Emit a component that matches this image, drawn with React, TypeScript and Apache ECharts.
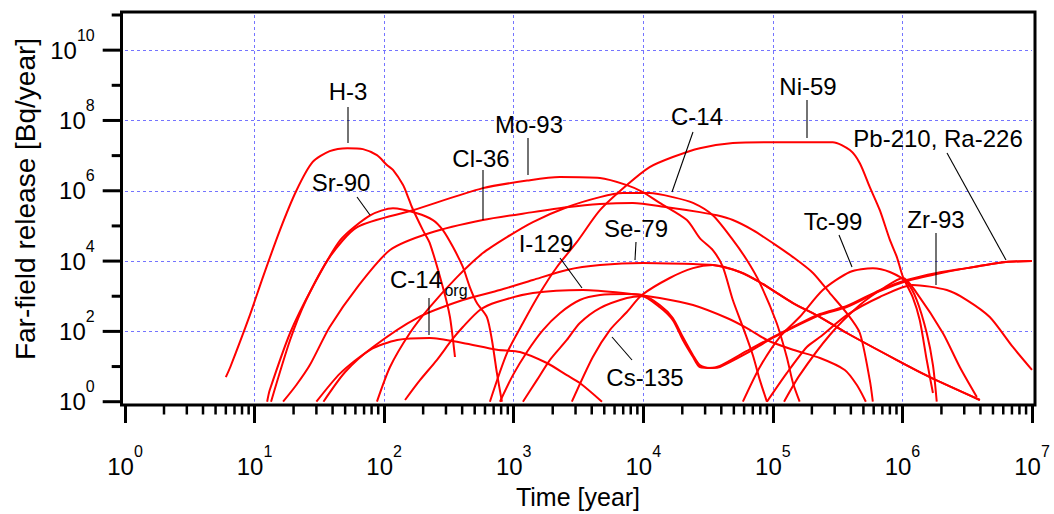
import React, { useEffect, useRef } from 'react';
import * as echarts from 'echarts';

const FONT = "'Liberation Sans', Arial, Helvetica, sans-serif";
const RED = '#ff0000';
const GRID_BLUE = '#7474ff';

// axis ranges
const X_MIN = 1;
const X_MAX = 1e7;
const Y_MIN = 1;
const Y_MAX = 1e11;

// ---- series data: [time (year), release (Bq/year)] ----
const h3: [number, number][] = [[6.0, 5.0], [6.5, 9.7], [9.2, 290], [11.6, 3.5e3], [15.7, 7.6e4], [21, 1.0e6], [28, 6.5e6], [38, 1.34e7], [52, 1.63e7], [68.6, 1.53e7], [88, 1.03e7], [105, 5.4e6], [117, 3.9e6], [140, 1.45e6], [153, 6.6e5], [164, 3.4e5], [199, 7.6e4], [225, 3.25e4], [284, 1.8e3], [322, 256], [352, 18.7]];
const sr90: [number, number][] = [[12.5, 1], [13.1, 2.15], [18.8, 90], [28, 1.8e3], [46, 4.0e4], [78, 2.0e5], [117, 3.2e5], [179, 2.3e5], [238, 1.47e5], [284, 7.6e4], [340, 2.5e4], [405, 6.8e3], [459, 1.8e3], [520, 640], [621, 256], [679, 57], [742, 6.5], [811, 1]];
const mo93: [number, number][] = [[13.4, 1], [18.8, 57], [25, 780], [38, 1.3e4], [62, 9.3e4], [167, 2.8e5], [578, 1.19e6], [1334, 2.0e6], [2270, 2.45e6], [4630, 2.3e6], [7470, 1.45e6], [9930, 9.2e5], [1.34e4, 4.5e5], [2.17e4, 1.47e5], [2.73e4, 4.5e4], [3.44e4, 2.06e4], [4.11e4, 6.8e3], [4.91e4, 780], [5.87e4, 133], [7.01e4, 21], [7.94e4, 4.1], [9.0e4, 1]];
const cl36: [number, number][] = [[16.6, 1], [21, 2.98], [26.7, 11], [38, 133], [62, 1.8e3], [111, 2.06e4], [225, 6.3e4], [578, 1.47e5], [1406, 2.47e5], [2570, 3.4e5], [4630, 4.2e5], [8310, 4.5e5], [1.52e4, 3.4e5], [2.73e4, 2.47e5], [3.7e4, 2.0e5], [4.91e4, 1.47e5], [7.01e4, 7.6e4], [1.0e5, 3.25e4], [1.43e5, 1.3e4], [2.04e5, 4.6e3], [2.75e5, 1.23e3], [3.72e5, 330], [4.69e5, 90], [5.6e5, 4.1], [5.91e5, 1]];
const c14: [number, number][] = [[88, 1], [111, 9.7], [158, 90], [225, 490], [365, 3.5e3], [578, 1.69e4], [887, 4.8e4], [1406, 1.29e5], [2570, 3.4e5], [4630, 6.6e5], [6960, 8.6e5], [1.12e4, 8.6e5], [1.69e4, 6.6e5], [2.42e4, 4.5e5], [3.44e4, 2.0e5], [4.91e4, 4.0e4], [6.3e4, 1.07e4], [7.94e4, 2.37e3], [1.07e5, 173], [1.28e5, 18.7], [1.43e5, 3.4], [1.61e5, 1]];
const ni59: [number, number][] = [[655, 1], [887, 24], [1178, 173], [1592, 1.23e3], [2155, 6.8e3], [3075, 3.5e4], [4630, 2.8e5], [7470, 1.45e6], [1.12e4, 4.7e6], [1.69e4, 9.1e6], [2.73e4, 1.63e7], [4.91e4, 2.27e7], [1.0e5, 2.42e7], [2.9e5, 2.42e7], [3.93e5, 1.44e7], [4.69e5, 6.1e6], [5.6e5, 1.27e6], [6.69e5, 2.8e5], [8.0e5, 4.0e4], [9.06e5, 1.3e4], [1.01e6, 3.5e3], [1.2e6, 950], [1.36e6, 210], [1.54e6, 15.3], [1.72e6, 1.77]];
const c14org: [number, number][] = [[30, 1], [46, 6.5], [78, 30], [126, 57], [225, 65], [405, 47], [742, 30], [1117, 26], [1803, 12.6], [2570, 5.7], [3240, 3.4], [4800, 1]];
const se79: [number, number][] = [[34, 1], [50, 7.0], [82, 36], [179, 240], [405, 780], [783, 1.5e3], [1406, 2.9e3], [2570, 5.6e3], [4630, 7.7e3], [9930, 8.8e3], [2.42e4, 8.2e3], [3.44e4, 7.7e3], [5.56e4, 4.9e3], [7.94e4, 2.5e3], [1.43e5, 640], [2.31e5, 256], [3.72e5, 90], [9.06e5, 15.3], [1.63e6, 5.0], [3.96e6, 1.12]];
const i129: [number, number][] = [[145, 1.12], [189, 4.1], [255, 15.3], [333, 57], [405, 133], [548, 405], [742, 684], [1406, 1.23e3], [3420, 1.5e3], [6960, 1.23e3], [1.34e4, 889], [2.42e4, 561], [4.42e4, 240], [6.3e4, 124], [9.0e4, 57], [1.43e5, 30], [2.31e5, 17.5], [3.59e5, 8.0], [4.45e5, 2.98], [5.22e5, 1]];
const cs135: [number, number][] = [[2810, 1], [4080, 18.7], [5520, 109], [7470, 355], [9750, 1.08e3], [1.6e4, 3.3e3], [2.42e4, 6.3e3], [3.44e4, 7.7e3], [5.56e4, 4.9e3], [7.94e4, 2.5e3], [1.43e5, 640], [2.31e5, 256], [3.72e5, 90], [9.06e5, 15.3], [1.63e6, 5.0], [3.96e6, 1.12]];
const ra226: [number, number][] = [[1178, 1], [1510, 4.1], [1900, 15.3], [2570, 57], [3240, 173], [4630, 461], [7470, 889], [9750, 1.0e3], [1.34e4, 490], [1.69e4, 210], [2.02e4, 57], [2.42e4, 18.7], [2.73e4, 9.7], [3.44e4, 9.1], [3.9e4, 9.7], [6.3e4, 24], [1.0e5, 65], [2.31e5, 290], [3.72e5, 490], [6.69e5, 1.4e3], [1.08e6, 2.7e3], [1.84e6, 4.3e3], [3.14e6, 6.3e3], [6.28e6, 9.4e3], [1.0e7, 1.0e4]];
const pb210: [number, number][] = [[783, 1], [986, 5.7], [1265, 26], [1680, 109], [2270, 330], [3240, 780], [4630, 1.08e3], [7470, 1.15e3], [9750, 1.08e3], [1.34e4, 561], [1.69e4, 240], [2.02e4, 69], [2.42e4, 21], [2.73e4, 11], [3.26e4, 9.1], [3.9e4, 10.4], [6.3e4, 27.7], [1.0e5, 69], [2.31e5, 312], [3.72e5, 526], [6.69e5, 1.5e3], [1.08e6, 2.9e3], [1.84e6, 4.6e3], [3.14e6, 6.3e3], [6.28e6, 9.4e3], [1.0e7, 1.0e4]];
const tc99: [number, number][] = [[5.87e4, 1], [7.94e4, 9.7], [1.13e5, 69], [1.61e5, 256], [2.43e5, 1.5e3], [3.93e5, 4.9e3], [5.91e5, 6.3e3], [8.0e5, 4.9e3], [1.08e6, 2.5e3], [1.29e6, 780], [1.54e6, 90], [1.72e6, 11], [1.84e6, 1]];
const zr93: [number, number][] = [[9.0e4, 1], [1.28e5, 6.5], [1.83e5, 36], [2.31e5, 69], [3.72e5, 290], [6.69e5, 950], [1.2e6, 2.1e3], [2.2e6, 1.5e3], [3.14e6, 780], [4.72e6, 256], [7.11e6, 36], [1.0e7, 8.0]];
const other1: [number, number][] = [[1.22e5, 1], [1.61e5, 5.7], [2.75e5, 79], [4.69e5, 561], [7.31e5, 1.8e3], [1.01e6, 3.3e3], [1.29e6, 1.23e3], [2.05e6, 90], [2.77e6, 9.7], [3.75e6, 1.36]];

const CURVES: { name: string; data: [number, number][] }[] = [
  { name: 'H-3', data: h3 },
  { name: 'Sr-90', data: sr90 },
  { name: 'Mo-93', data: mo93 },
  { name: 'Cl-36', data: cl36 },
  { name: 'C-14', data: c14 },
  { name: 'Ni-59', data: ni59 },
  { name: 'C-14org', data: c14org },
  { name: 'Se-79', data: se79 },
  { name: 'I-129', data: i129 },
  { name: 'Cs-135', data: cs135 },
  { name: 'Ra-226', data: ra226 },
  { name: 'Pb-210', data: pb210 },
  { name: 'Tc-99', data: tc99 },
  { name: 'Zr-93', data: zr93 },
  { name: 'other', data: other1 },
];

// tick positions
const xDecades = [0, 1, 2, 3, 4, 5, 6];
const xMinorMultipliers = [2, 3, 4, 5, 6, 7, 8, 9];
const yDecades = [0, 1, 2, 3, 4, 5, 6, 7, 8, 9, 10, 11];

const AXIS_OFFSET = 3.3;

// annotation labels (pixel positions, as in the figure)
const LABELS = [
  { text: 'H-3', x: 348, y: 91 },
  { text: 'Sr-90', x: 341, y: 182 },
  { text: 'Cl-36', x: 481, y: 158 },
  { text: 'Mo-93', x: 529, y: 124 },
  { text: 'C-14', x: 697, y: 116 },
  { text: 'Ni-59', x: 808, y: 86 },
  { text: 'Pb-210, Ra-226', x: 938, y: 138 },
  { text: 'Tc-99', x: 833, y: 221 },
  { text: 'Zr-93', x: 936, y: 219 },
  { text: 'I-129', x: 546, y: 243 },
  { text: 'Se-79', x: 636, y: 228 },
  { text: 'Cs-135', x: 645, y: 377 },
];
const POINTERS = [
  [348, 107, 348, 143],
  [357, 197, 370, 215],
  [483, 170, 483, 220],
  [528, 138, 528, 175],
  [693, 132, 672, 192],
  [807, 100, 807, 138],
  [947, 153, 1006, 260],
  [839, 235, 852, 267],
  [936, 233, 936, 285],
  [560, 258, 582, 288],
  [636, 242, 635, 260],
  [632, 360, 612, 337],
  [429, 298, 429, 335],
];

export default function App() {
  const ref = useRef<HTMLDivElement>(null);

  useEffect(() => {
    document.body.style.margin = '0';
    const chart = echarts.init(ref.current as HTMLDivElement, null, { renderer: 'svg' });

    const labelFmt = (v: number) => {
      const e = Math.round(Math.log10(v));
      if (e > 10) return '';
      return `{b|10}{s|${e}}`;
    };
    const rich = {
      b: { fontSize: 24, lineHeight: 46, fontFamily: FONT, color: '#000' },
      s: { fontSize: 16, verticalAlign: 'top', fontFamily: FONT, color: '#000' },
    };

    const xMinorData: number[][] = [];
    xDecades.forEach((d) => xMinorMultipliers.forEach((m) => xMinorData.push([m * Math.pow(10, d), 1])));
    const yTickData: number[][] = yDecades.map((d) => [1, Math.pow(10, d), d % 2 === 0 ? 19 : 10]);

    const graphic: any[] = [
      {
        type: 'rect',
        shape: { x: 121.5, y: 12, width: 913.5, height: 393 },
        style: { fill: 'none', stroke: '#000', lineWidth: 3 },
        z: 100,
        silent: true,
      },
      {
        type: 'text',
        x: 578,
        y: 497,
        style: { text: 'Time [year]', fontSize: 25, fontFamily: FONT, fill: '#000', align: 'center', verticalAlign: 'middle' },
      },
      {
        type: 'text',
        x: 25,
        y: 199,
        rotation: Math.PI / 2,
        style: { text: 'Far-field release [Bq/year]', fontSize: 28, fontFamily: FONT, fill: '#000', align: 'center', verticalAlign: 'middle' },
      },
      ...LABELS.map((l) => ({
        type: 'text',
        x: l.x,
        y: l.y,
        z: 50,
        style: { text: l.text, fontSize: 24, fontFamily: FONT, fill: '#000', align: 'center', verticalAlign: 'middle' },
      })),
      {
        type: 'text',
        x: 416,
        y: 279,
        z: 50,
        style: { text: 'C-14', fontSize: 24, fontFamily: FONT, fill: '#000', align: 'center', verticalAlign: 'middle' },
      },
      {
        type: 'text',
        x: 456,
        y: 290,
        z: 50,
        style: { text: 'org', fontSize: 16, fontFamily: FONT, fill: '#000', align: 'center', verticalAlign: 'middle' },
      },
      ...POINTERS.map((p) => ({
        type: 'line',
        z: 50,
        shape: { x1: p[0], y1: p[1], x2: p[2], y2: p[3] },
        style: { stroke: '#000', lineWidth: 1.1 },
      })),
    ];

    const option: any = {
      animation: false,
      backgroundColor: '#fff',
      grid: { left: 125, right: 22, top: 15, bottom: 112.3, containLabel: false },
      xAxis: {
        type: 'log',
        logBase: 10,
        min: X_MIN,
        max: X_MAX,
        splitNumber: 7,
        offset: AXIS_OFFSET,
        axisLine: { show: false },
        axisTick: { show: true, length: 18, lineStyle: { color: '#000', width: 3 } },
        axisLabel: { formatter: labelFmt, rich, margin: 38, fontFamily: FONT, color: '#000' },
        splitLine: { show: true, showMinLine: false, showMaxLine: false, lineStyle: { color: GRID_BLUE, width: 1, type: [3, 3] } },
        minorTick: { show: false },
      },
      yAxis: {
        type: 'log',
        logBase: 100,
        min: Y_MIN,
        max: Y_MAX,
        splitNumber: 5,
        offset: AXIS_OFFSET,
        axisLine: { show: false },
        axisTick: { show: false },
        axisLabel: { formatter: labelFmt, rich, margin: 27, fontFamily: FONT, color: '#000' },
        splitLine: { show: true, showMinLine: false, showMaxLine: false, lineStyle: { color: GRID_BLUE, width: 1, type: [3, 3] } },
      },
      series: [
        ...CURVES.map((c) => ({
          name: c.name,
          type: 'line',
          data: c.data,
          showSymbol: false,
          symbol: 'none',
          smooth: 0.25,
          clip: true,
          lineStyle: { color: RED, width: 2 },
          z: 3,
        })),
        {
          type: 'custom',
          name: 'x-minor-ticks',
          data: xMinorData,
          silent: true,
          clip: false,
          z: 10,
          renderItem: (params: any, api: any) => {
            const p = api.coord([api.value(0), 1]);
            const y0 = p[1] + AXIS_OFFSET;
            return {
              type: 'line',
              shape: { x1: p[0], y1: y0, x2: p[0], y2: y0 + 9.5 },
              style: { stroke: '#000', lineWidth: 2.5 },
            };
          },
        },
        {
          type: 'custom',
          name: 'y-ticks',
          data: yTickData,
          silent: true,
          clip: false,
          z: 10,
          renderItem: (params: any, api: any) => {
            const p = api.coord([1, api.value(1)]);
            const x0 = p[0] - AXIS_OFFSET;
            const len = api.value(2);
            return {
              type: 'line',
              shape: { x1: x0 - len, y1: p[1], x2: x0, y2: p[1] },
              style: { stroke: '#000', lineWidth: 3 },
            };
          },
        },
      ],
      graphic,
    };

    chart.setOption(option);
    return () => chart.dispose();
  }, []);

  return <div ref={ref} style={{ position: 'absolute', left: 0, top: 0, width: 1054, height: 514 }} />;
}
